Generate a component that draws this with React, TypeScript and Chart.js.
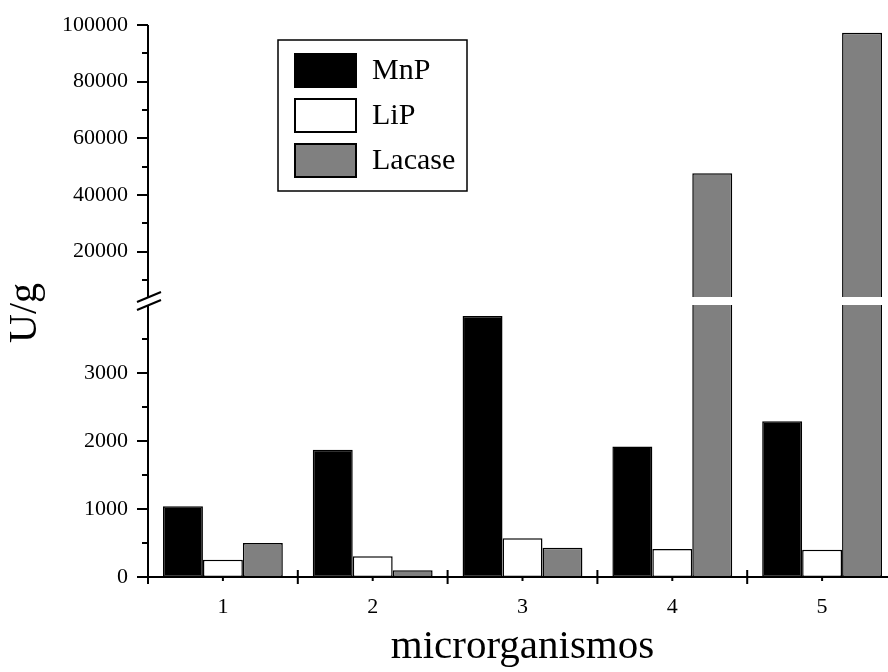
import { useEffect, useRef } from 'react';
import { Chart, registerables, LinearScale } from 'chart.js';

Chart.register(...registerables);

// ---- data ----
const categories = ['1', '2', '3', '4', '5'];
const seriesLabels = ['MnP', 'LiP', 'Lacase'];
const mnpValues = [1040, 1870, 3840, 1920, 2290];
const lipValues = [255, 305, 570, 410, 400];
const lacaseValues = [500, 100, 430, 47700, 97300];
const seriesColors = ['#000000', '#ffffff', '#808080'];

const lowerMajorTicks = [0, 1000, 2000, 3000];
const upperMajorTicks = [20000, 40000, 60000, 80000, 100000];
const minorTicks = [500, 1500, 2500, 3500, 10000, 30000, 50000, 70000, 90000];
const axisBreak = 4000;
const axisMax = 100000;

const xTitle = 'microrganismos';
const yTitle = 'U/g';

const BREAK_GAP = 8;
const FONT = "'Liberation Serif', 'Times New Roman', serif";

class BrokenLinearScale extends LinearScale {
  static id = 'brokenLinear';
  getPixelForValue(value: number) {
    const half = (this.bottom - this.top - BREAK_GAP) / 2;
    if (value <= axisBreak) {
      return this.bottom - ((value - this.min) / (axisBreak - this.min)) * half;
    }
    return this.top + ((this.max - value) / (this.max - axisBreak)) * half;
  }
  getValueForPixel(pixel: number) {
    const half = (this.bottom - this.top - BREAK_GAP) / 2;
    if (pixel >= this.bottom - half) {
      return this.min + ((this.bottom - pixel) / half) * (axisBreak - this.min);
    }
    return this.max - ((pixel - this.top) / half) * (this.max - axisBreak);
  }
}
Chart.register(BrokenLinearScale as any);

const majorSet = new Set([...lowerMajorTicks, ...upperMajorTicks]);

const decorPlugin = {
  id: 'decor',
  afterDraw(chart: any) {
    const { ctx, chartArea } = chart;
    const y = chart.scales.y;
    const x = chart.scales.x;
    const left = chartArea.left;
    const bottom = chartArea.bottom;
    const top = chartArea.top;
    const lowerTop = y.getPixelForValue(axisBreak);
    const upperBottom = lowerTop - BREAK_GAP;

    ctx.save();
    // white break band
    ctx.fillStyle = '#ffffff';
    ctx.fillRect(left - 3, upperBottom, chart.width - left + 3, lowerTop - upperBottom);

    ctx.strokeStyle = '#000';
    ctx.lineWidth = 2;
    ctx.lineCap = 'butt';
    // y axis line (two segments)
    ctx.beginPath();
    ctx.moveTo(left, top);
    ctx.lineTo(left, upperBottom);
    ctx.moveTo(left, lowerTop);
    ctx.lineTo(left, bottom + 1);
    ctx.stroke();

    // y ticks
    ctx.beginPath();
    for (const v of [...lowerMajorTicks, ...upperMajorTicks]) {
      const py = Math.round(y.getPixelForValue(v));
      ctx.moveTo(left - 11, py);
      ctx.lineTo(left, py);
    }
    for (const v of minorTicks) {
      const py = Math.round(y.getPixelForValue(v));
      ctx.moveTo(left - 6, py);
      ctx.lineTo(left, py);
    }
    ctx.stroke();

    // break marks
    ctx.beginPath();
    for (const edge of [upperBottom, lowerTop]) {
      ctx.moveTo(left - 11, edge + 5);
      ctx.lineTo(left + 13, edge - 5);
    }
    ctx.stroke();

    // x axis line
    ctx.beginPath();
    ctx.moveTo(left - 1, bottom);
    ctx.lineTo(chart.width, bottom);
    ctx.stroke();

    // x ticks at category boundaries and centers
    const n = categories.length;
    const w = (x.right - x.left) / n;
    ctx.beginPath();
    for (let i = 0; i <= n; i++) {
      const px = x.left + i * w;
      ctx.moveTo(px, bottom - 7);
      ctx.lineTo(px, bottom + 7);
    }
    for (let i = 0; i < n; i++) {
      const px = x.getPixelForValue(i);
      ctx.moveTo(px, bottom);
      ctx.lineTo(px, bottom + 4);
    }
    ctx.stroke();

    // y axis title
    ctx.save();
    ctx.translate(25, 313);
    ctx.rotate(-Math.PI / 2);
    ctx.font = `40px ${FONT}`;
    ctx.fillStyle = '#000';
    ctx.textAlign = 'center';
    ctx.textBaseline = 'middle';
    ctx.fillText(yTitle, 0, 0);
    ctx.restore();

    // legend
    const bx = 278, by = 40, bw = 189, bh = 151;
    ctx.lineWidth = 1.5;
    ctx.strokeStyle = '#000';
    ctx.strokeRect(bx, by, bw, bh);
    ctx.font = `30px ${FONT}`;
    ctx.textBaseline = 'middle';
    ctx.textAlign = 'left';
    chart.data.datasets.forEach((ds: any, i: number) => {
      const sy = 54 + i * 45;
      ctx.fillStyle = ds.backgroundColor;
      ctx.fillRect(295, sy, 61, 33);
      ctx.strokeStyle = '#000';
      ctx.lineWidth = 2;
      ctx.strokeRect(295, sy, 61, 33);
      ctx.fillStyle = '#000';
      ctx.fillText(ds.label, 372, sy + 17);
    });
    ctx.restore();
  },
};

export default function App() {
  const canvasRef = useRef<HTMLCanvasElement | null>(null);

  useEffect(() => {
    const canvas = canvasRef.current;
    if (!canvas) return;
    const values = [mnpValues, lipValues, lacaseValues];
    const chart = new Chart(canvas, {
      type: 'bar',
      data: {
        labels: categories,
        datasets: seriesLabels.map((label, i) => ({
          label,
          data: values[i],
          backgroundColor: seriesColors[i],
          borderColor: '#000',
          borderWidth: 1.5,
          borderSkipped: false as any,
          categoryPercentage: 0.8,
          barPercentage: 1.0,
        })),
      },
      options: {
        animation: false,
        responsive: false,
        events: [],
        font: { family: FONT } as any,
        layout: { padding: { top: 25, left: 0, right: 23, bottom: 0 } },
        plugins: {
          legend: { display: false },
          tooltip: { enabled: false },
        },
        scales: {
          x: {
            type: 'category',
            offset: true,
            grid: { display: false, drawTicks: false },
            border: { display: false },
            ticks: {
              color: '#000',
              font: { family: FONT, size: 22 },
              padding: 17,
              maxRotation: 0,
            },
            title: {
              display: true,
              text: xTitle,
              color: '#000',
              font: { family: FONT, size: 41 },
              padding: { top: 0, bottom: 0 },
            },
            afterFit: (scale: any) => {
              scale.height = 95;
              scale.paddingLeft = 0;
              scale.paddingRight = 0;
            },
          },
          y: {
            type: 'brokenLinear' as any,
            min: 0,
            max: axisMax,
            grid: { display: false, drawTicks: false },
            border: { display: false },
            afterBuildTicks: (scale: any) => {
              const all = [...lowerMajorTicks, ...minorTicks, ...upperMajorTicks].sort((a, b) => a - b);
              scale.ticks = all.map((v) => ({ value: v }));
            },
            ticks: {
              color: '#000',
              font: { family: FONT, size: 22 },
              padding: 20,
              autoSkip: false,
              callback: (v: any) => (majorSet.has(Number(v)) ? String(v) : ''),
            },
            title: { display: false, text: yTitle },
            afterFit: (scale: any) => {
              scale.width = 148;
              scale.paddingTop = 0;
              scale.paddingBottom = 0;
            },
          } as any,
        },
      },
      plugins: [decorPlugin],
    });
    return () => chart.destroy();
  }, []);

  return (
    <div style={{ position: 'absolute', left: 0, top: 0, width: 888, height: 672, overflow: 'hidden', background: '#fff' }}>
      <canvas ref={canvasRef} width={920} height={672} style={{ display: 'block', width: 920, height: 672 }} />
    </div>
  );
}
